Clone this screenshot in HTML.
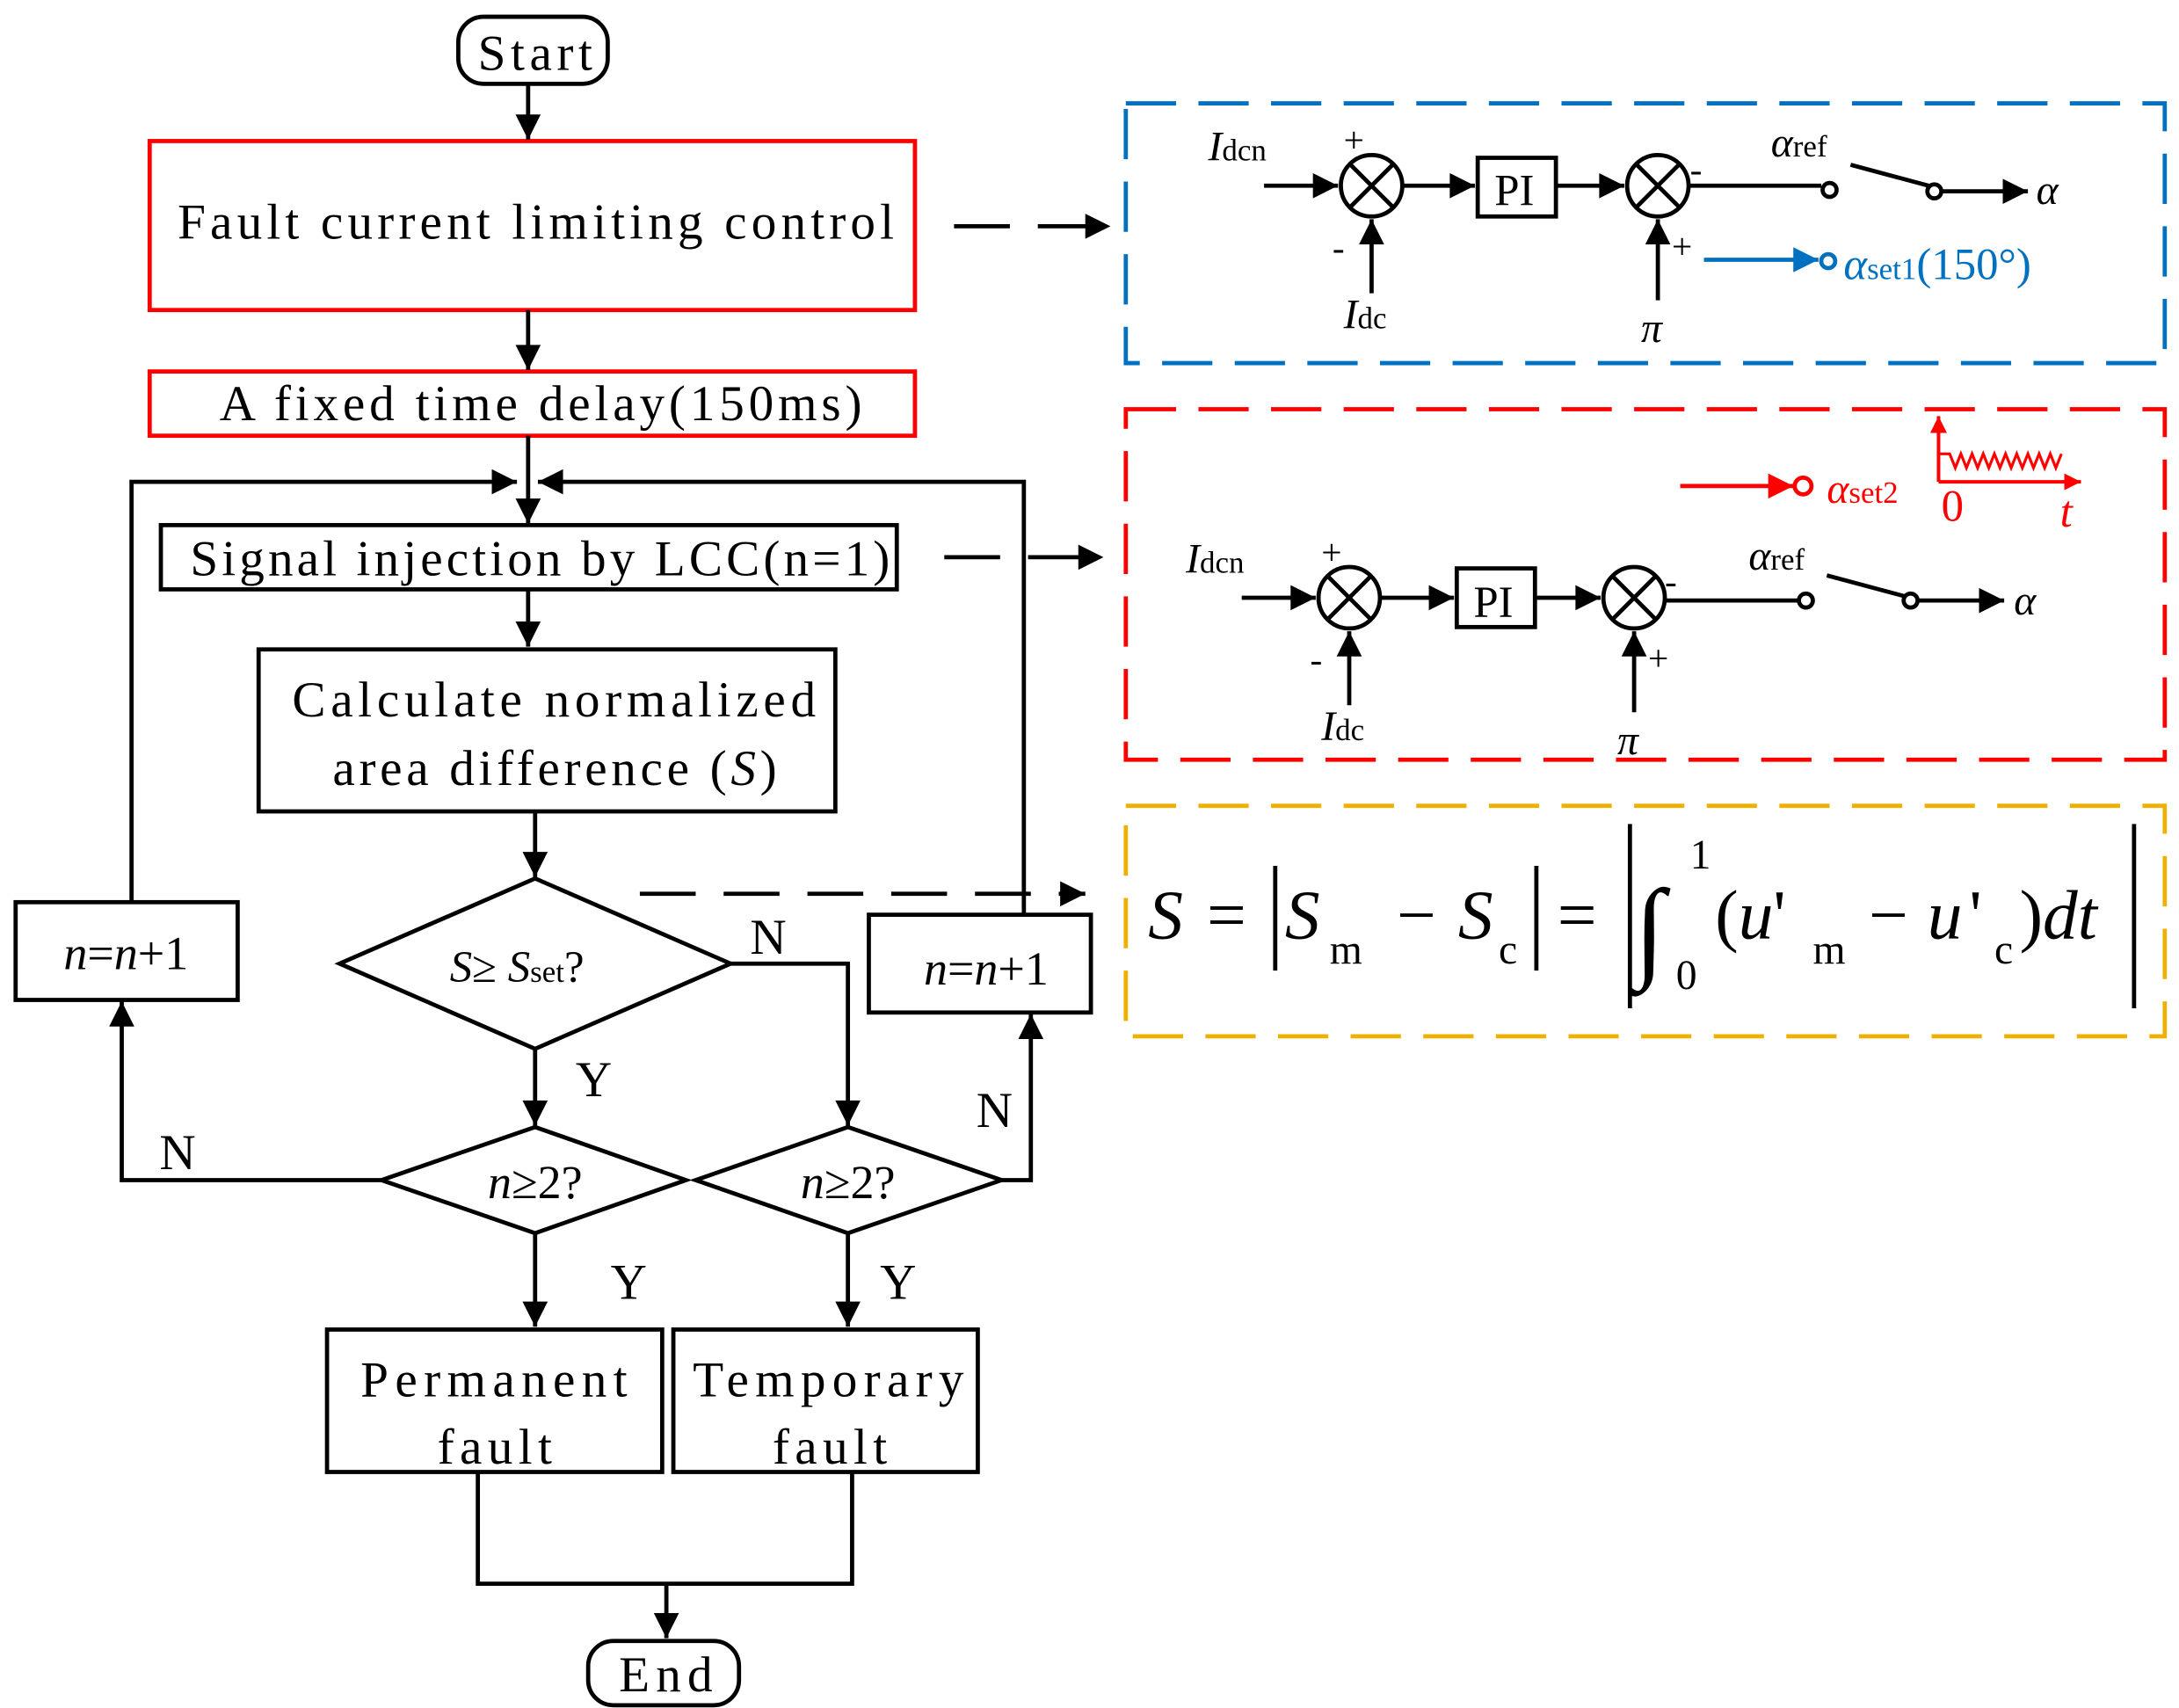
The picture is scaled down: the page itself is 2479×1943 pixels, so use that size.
<!DOCTYPE html>
<html><head><meta charset="utf-8"><style>
html,body{margin:0;padding:0;background:#fff}
svg{display:block}
text{font-family:"Liberation Serif",serif;}
</style></head><body>
<svg width="2479" height="1943" viewBox="0 0 1560 1223" xmlns="http://www.w3.org/2000/svg">
<defs>
<marker id="A" viewBox="0 0 10 10" refX="10" refY="5" markerWidth="22" markerHeight="18" markerUnits="userSpaceOnUse" orient="auto"><path d="M0,0 L10,5 L0,10 z" fill="#000"/></marker>
<marker id="B" viewBox="0 0 10 10" refX="10" refY="5" markerWidth="22" markerHeight="18" markerUnits="userSpaceOnUse" orient="auto"><path d="M0,0 L10,5 L0,10 z" fill="#0070c0"/></marker>
<marker id="R" viewBox="0 0 10 10" refX="10" refY="5" markerWidth="22" markerHeight="18" markerUnits="userSpaceOnUse" orient="auto"><path d="M0,0 L10,5 L0,10 z" fill="#f00"/></marker>
<marker id="Rs" viewBox="0 0 10 10" refX="10" refY="5" markerWidth="12" markerHeight="12" markerUnits="userSpaceOnUse" orient="auto"><path d="M0,0 L10,5 L0,10 z" fill="#f00"/></marker>
</defs>
<g fill="none" stroke="#000" stroke-width="3">
<rect x="328" y="12" width="107" height="48" rx="18"/>
<rect x="421" y="1175" width="108" height="46" rx="18"/>
<rect x="107" y="101" width="548" height="121" stroke="#f00"/>
<rect x="107" y="266" width="548" height="46" stroke="#f00"/>
<rect x="115" y="376" width="527" height="46"/>
<rect x="185" y="465" width="413" height="116"/>
<polygon points="243,690 383,629 523,690 383,751"/>
<polygon points="273,845 383,807 491,845 383,883"/>
<polygon points="498,845 607,807 717,845 607,883"/>
<rect x="11" y="646" width="159" height="70"/>
<rect x="622" y="655" width="159" height="70"/>
<rect x="234" y="952" width="240" height="102"/>
<rect x="482" y="952" width="218" height="102"/>
</g>
<g fill="none" stroke="#000" stroke-width="3" marker-end="url(#A)">
<line x1="378" y1="60" x2="378" y2="100"/>
<line x1="378" y1="222" x2="378" y2="265"/>
<line x1="378" y1="312" x2="378" y2="375"/>
<polyline points="94,645 94,345 370,345"/>
<polyline points="733,655 733,345 385,345"/>
<line x1="378" y1="422" x2="378" y2="463"/>
<line x1="383" y1="581" x2="383" y2="628"/>
<line x1="383" y1="751" x2="383" y2="806"/>
<polyline points="523,690 607,690 607,806"/>
<polyline points="273,845 87,845 87,717"/>
<polyline points="717,845 738,845 738,726"/>
<line x1="383" y1="883" x2="383" y2="950"/>
<line x1="607" y1="883" x2="607" y2="950"/>
<line x1="477" y1="1134" x2="477" y2="1173"/>
</g>
<polyline points="342,1054 342,1134 610,1134 610,1054" fill="none" stroke="#000" stroke-width="3"/>
<g fill="none" stroke="#000" stroke-width="3" stroke-dasharray="40,20">
<line x1="683" y1="162" x2="795" y2="162" marker-end="url(#A)"/>
<line x1="676" y1="399" x2="790" y2="399" marker-end="url(#A)"/>
<line x1="458" y1="640" x2="777" y2="640" marker-end="url(#A)"/>
</g>
<g font-size="36" fill="#000" lengthAdjust="spacing">
<text x="342" y="50" textLength="82" lengthAdjust="spacing">Start</text>
<text x="127" y="171" textLength="513" lengthAdjust="spacing">Fault current limiting control</text>
<text x="157" y="301" textLength="460" lengthAdjust="spacing">A fixed time delay(150ms)</text>
<text x="136" y="412" textLength="501" lengthAdjust="spacing">Signal injection by LCC(n=1)</text>
<text x="209" y="513" textLength="375" lengthAdjust="spacing">Calculate normalized</text>
<text x="238" y="562" textLength="318" lengthAdjust="spacing">area difference (<tspan font-style="italic">S</tspan>)</text>
<text x="258" y="1000" textLength="191" lengthAdjust="spacing">Permanent</text>
<text x="313" y="1048" textLength="82" lengthAdjust="spacing">fault</text>
<text x="496" y="1000" textLength="194" lengthAdjust="spacing">Temporary</text>
<text x="553" y="1048" textLength="82" lengthAdjust="spacing">fault</text>
<text x="443" y="1211" textLength="67" lengthAdjust="spacing">End</text>
</g>
<g font-size="36" text-anchor="middle" fill="#000">
<text x="370" y="703" font-size="32"><tspan font-style="italic">S</tspan>≥ <tspan font-style="italic">S</tspan><tspan font-size="22">set</tspan>?</text>
<text x="383" y="858" font-size="34"><tspan font-style="italic">n</tspan>≥2?</text>
<text x="607" y="858" font-size="34"><tspan font-style="italic">n</tspan>≥2?</text>
<text x="90" y="694" font-size="34"><tspan font-style="italic">n</tspan>=<tspan font-style="italic">n</tspan>+1</text>
<text x="706" y="705" font-size="34"><tspan font-style="italic">n</tspan>=<tspan font-style="italic">n</tspan>+1</text>
<text x="425" y="785">Y</text>
<text x="550" y="683">N</text>
<text x="127" y="837">N</text>
<text x="712" y="807">N</text>
<text x="450" y="930">Y</text>
<text x="643" y="930">Y</text>
</g>
<rect x="806" y="74" width="744" height="186" fill="none" stroke="#0070c0" stroke-width="3" stroke-dasharray="36,16"/>
<rect x="806" y="293" width="744" height="251" fill="none" stroke="#f00" stroke-width="3" stroke-dasharray="36,16"/>
<rect x="806" y="577" width="744" height="165" fill="none" stroke="#f0b000" stroke-width="3" stroke-dasharray="36,16"/>
<g stroke="#000" stroke-width="3" fill="none">
<line x1="905" y1="133" x2="958" y2="133" marker-end="url(#A)"/>
<circle cx="982" cy="133" r="22"/><path d="M966,117 L998,149 M998,117 L966,149"/>
<line x1="982" y1="210" x2="982" y2="157" marker-end="url(#A)"/>
<line x1="1004" y1="133" x2="1056" y2="133" marker-end="url(#A)"/>
<rect x="1058" y="113" width="56" height="42"/>
<line x1="1114" y1="133" x2="1163" y2="133" marker-end="url(#A)"/>
<circle cx="1187" cy="133" r="22"/><path d="M1171,117 L1203,149 M1203,117 L1171,149"/>
<line x1="1187" y1="215" x2="1187" y2="157" marker-end="url(#A)"/>
<line x1="1209" y1="133" x2="1304" y2="133"/>
<circle cx="1310" cy="136" r="5"/>
<line x1="1325" y1="118" x2="1381" y2="133"/>
<circle cx="1385" cy="137" r="5"/>
<line x1="1391" y1="137" x2="1452" y2="137" marker-end="url(#A)"/>
<line x1="1220" y1="186" x2="1302" y2="186" stroke="#0070c0" marker-end="url(#B)"/>
<circle cx="1309" cy="187" r="5" stroke="#0070c0"/>
</g>
<g font-size="30" fill="#000">
<text x="865" y="115" font-style="italic">I<tspan font-size="22" font-style="normal">dcn</tspan></text>
<text x="962" y="109" font-size="26">+</text>
<text x="954" y="186" font-size="26">-</text>
<text x="962" y="235" font-style="italic">I<tspan font-size="22" font-style="normal">dc</tspan></text>
<text x="1070" y="147" font-size="32">PI</text>
<text x="1210" y="130" font-size="26">-</text>
<text x="1197" y="185" font-size="26">+</text>
<text x="1175" y="245" font-style="italic">π</text>
<text x="1268" y="112" font-style="italic">α<tspan font-size="22" font-style="normal">ref</tspan></text>
<text x="1458" y="146" font-style="italic">α</text>
<text x="1320" y="200" fill="#0070c0" font-size="32"><tspan font-style="italic">α</tspan><tspan font-size="22">set1</tspan>(150°)</text>
</g>
<g stroke="#000" stroke-width="3" fill="none">
<line x1="889" y1="428" x2="942" y2="428" marker-end="url(#A)"/>
<circle cx="966" cy="428" r="22"/><path d="M950,412 L982,444 M982,412 L950,444"/>
<line x1="966" y1="505" x2="966" y2="452" marker-end="url(#A)"/>
<line x1="988" y1="428" x2="1041" y2="428" marker-end="url(#A)"/>
<rect x="1043" y="407" width="56" height="42"/>
<line x1="1099" y1="428" x2="1146" y2="428" marker-end="url(#A)"/>
<circle cx="1170" cy="428" r="22"/><path d="M1154,412 L1186,444 M1186,412 L1154,444"/>
<line x1="1170" y1="510" x2="1170" y2="452" marker-end="url(#A)"/>
<line x1="1192" y1="430" x2="1287" y2="430"/>
<circle cx="1293" cy="430" r="5"/>
<line x1="1308" y1="412" x2="1364" y2="427"/>
<circle cx="1368" cy="430" r="5"/>
<line x1="1374" y1="430" x2="1435" y2="430" marker-end="url(#A)"/>
<line x1="1203" y1="348" x2="1284" y2="348" stroke="#f00" marker-end="url(#R)"/>
<circle cx="1291" cy="348" r="6" stroke="#f00"/>
<line x1="1388" y1="345" x2="1388" y2="298" stroke="#f00" stroke-width="2.5" marker-end="url(#Rs)"/>
<line x1="1388" y1="345" x2="1490" y2="345" stroke="#f00" stroke-width="2.5" marker-end="url(#Rs)"/>
<polyline stroke="#f00" stroke-width="2" points="1388,325 1396,325 1400,335 1404,325 1408,335 1412,325 1416,335 1420,325 1424,335 1428,325 1432,335 1436,325 1440,335 1444,325 1448,335 1452,325 1456,335 1460,325 1464,335 1468,325 1472,335 1476,325"/>
</g>
<g font-size="30" fill="#000">
<text x="849" y="410" font-style="italic">I<tspan font-size="22" font-style="normal">dcn</tspan></text>
<text x="946" y="404" font-size="26">+</text>
<text x="938" y="481" font-size="26">-</text>
<text x="946" y="530" font-style="italic">I<tspan font-size="22" font-style="normal">dc</tspan></text>
<text x="1055" y="442" font-size="32">PI</text>
<text x="1192" y="425" font-size="26">-</text>
<text x="1180" y="480" font-size="26">+</text>
<text x="1158" y="540" font-style="italic">π</text>
<text x="1252" y="408" font-style="italic">α<tspan font-size="22" font-style="normal">ref</tspan></text>
<text x="1442" y="440" font-style="italic">α</text>
<text x="1308" y="360" fill="#f00"><tspan font-style="italic">α</tspan><tspan font-size="22">set2</tspan></text>
<text x="1390" y="373" fill="#f00" font-size="32">0</text>
<text x="1475" y="377" fill="#f00" font-size="32" font-style="italic">t</text>
</g>
<g font-size="50" fill="#000">
<text x="822" y="672" font-style="italic">S</text>
<text x="864" y="672">=</text>
<line x1="913" y1="620" x2="913" y2="695" stroke="#000" stroke-width="3"/>
<text x="920" y="672" font-style="italic">S</text>
<text x="952" y="690" font-size="30">m</text>
<text x="1000" y="672">−</text>
<text x="1044" y="672" font-style="italic">S</text>
<text x="1073" y="690" font-size="30">c</text>
<line x1="1100" y1="620" x2="1100" y2="695" stroke="#000" stroke-width="3"/>
<text x="1115" y="672">=</text>
<line x1="1167" y1="590" x2="1167" y2="722" stroke="#000" stroke-width="3"/>
<text x="1170" y="692" font-size="80" font-style="italic">∫</text>
<text x="1210" y="622" font-size="30">1</text>
<text x="1200" y="708" font-size="30">0</text>
<text x="1228" y="672">(<tspan font-style="italic">u</tspan>'</text>
<text x="1298" y="690" font-size="30">m</text>
<text x="1338" y="672">−</text>
<text x="1380" y="672" font-style="italic">u</text>
<text x="1410" y="672">'</text>
<text x="1428" y="690" font-size="30">c</text>
<text x="1446" y="672">)<tspan font-style="italic">dt</tspan></text>
<line x1="1528" y1="590" x2="1528" y2="722" stroke="#000" stroke-width="3"/>
</g>
</svg>
</body></html>
